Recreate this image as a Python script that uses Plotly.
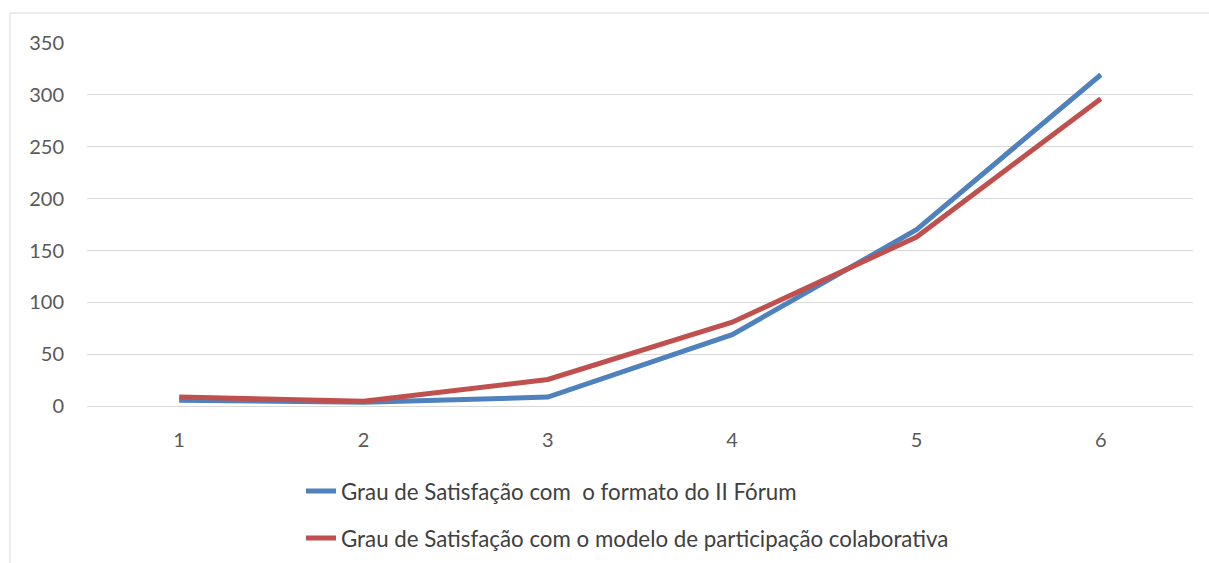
import plotly.graph_objects as go

categories = [1, 2, 3, 4, 5, 6]
formato_forum = [6, 4, 9, 69, 170, 319]
modelo_participacao = [9, 5, 26, 81, 163, 296]
series_names = [
    "Grau de Satisfação com  o formato do II Fórum",
    "Grau de Satisfação com o modelo de participação colaborativa",
]
y_ticks = [0, 50, 100, 150, 200, 250, 300, 350]

FONT = "Lato, 'Open Sans', sans-serif"

fig = go.Figure()
fig.add_trace(go.Scatter(x=categories, y=formato_forum, mode="lines", name=series_names[0],
                         line=dict(color="#4f81bd", width=5), legendgroup="a"))
fig.add_trace(go.Scatter(x=categories, y=modelo_participacao, mode="lines", name=series_names[1],
                         line=dict(color="#c0504d", width=5), legendgroup="b"))

L, R, T, B = 87, 16, 42, 156
W, H = 1209, 563
pw, ph = W - L - R, H - T - B

def px_to_paper_x(px):
    return (px - L) / pw

def px_to_paper_y(py):
    return (H - B - py) / ph

fig.update_layout(
    width=W, height=H,
    margin=dict(l=L, r=R, t=T, b=B, autoexpand=False),
    paper_bgcolor="white", plot_bgcolor="white",
    font=dict(family=FONT, size=20, color="#595959"),
    showlegend=True,
    legend=dict(orientation="v", x=px_to_paper_x(301), y=px_to_paper_y(470),
                xanchor="left", yanchor="top", tracegroupgap=15,
                font=dict(size=22.3, color="#404040"), bgcolor="rgba(0,0,0,0)"),
    xaxis=dict(range=[0.5, 6.5], tickmode="array", tickvals=categories,
               ticktext=[str(c) for c in categories], showgrid=False, zeroline=False,
               showline=False, ticks="", ticklabelstandoff=19, fixedrange=True),
    yaxis=dict(range=[-0.5, 350.5], tickmode="array", tickvals=y_ticks,
               showgrid=True, gridcolor="#d9d9d9", gridwidth=1, zeroline=True,
               zerolinecolor="#d9d9d9", zerolinewidth=1, showline=False, ticks="",
               ticklabelstandoff=22, fixedrange=True),
    shapes=[dict(type="rect", xref="paper", yref="paper",
                 x0=px_to_paper_x(10), x1=px_to_paper_x(1220),
                 y0=px_to_paper_y(580), y1=px_to_paper_y(13),
                 line=dict(color="#d9d9d9", width=1), fillcolor="rgba(0,0,0,0)", layer="below")],
)
fig.write_html("out.html", config={"displayModeBar": False},
               post_script="document.body.style.margin='0';")
